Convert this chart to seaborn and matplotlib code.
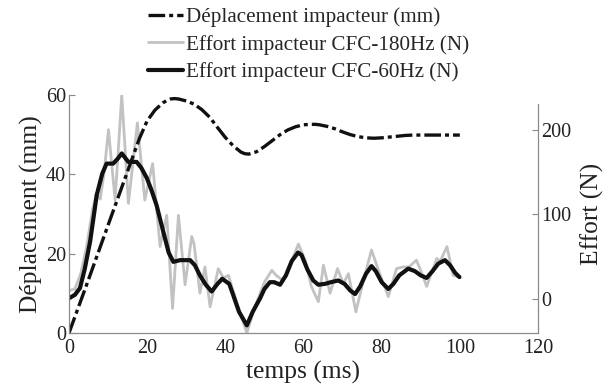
import matplotlib
matplotlib.use("Agg")
import matplotlib.pyplot as plt
import seaborn as sns
import pandas as pd

# ---- data ----
disp_t = [0, 5, 10, 15, 18, 20, 22, 24, 25, 26, 27, 28, 30, 32, 34, 36, 38, 40, 42, 44,
          45, 46, 48, 50, 52, 54, 56, 58, 60, 62, 63, 64, 66, 68, 70, 72, 74, 76, 78, 80,
          82, 84, 86, 88, 90, 92, 94, 96, 98, 100]
disp_mm = [0, 13.5, 27.2, 40.8, 49.0, 53.5, 56.2, 58.0, 58.6, 59.0, 59.1, 59.0, 58.5, 57.7,
           56.3, 54.4, 51.8, 49.3, 47.2, 45.6, 45.2, 45.1, 45.7, 47.0, 48.5, 50.0, 51.2,
           52.0, 52.5, 52.6, 52.6, 52.5, 52.1, 51.5, 50.7, 50.0, 49.5, 49.2, 49.1, 49.2,
           49.4, 49.6, 49.8, 49.9, 49.9, 49.9, 49.9, 49.9, 49.9, 49.9]

f180_t = [0, 1.5, 3, 4.5, 6, 7, 8, 9, 10.1, 11.8, 13.5, 15.2, 17.5, 19.4, 21.4, 23.3, 25,
          26.5, 28, 29.7, 31.4, 32, 33.5, 34.8, 36.1, 38.2, 39.5, 40.8, 43, 45.5, 47.5,
          50, 51.9, 53, 54.8, 56.5, 58.7, 60.5, 62, 63.8, 65.1, 66.8, 68.7, 70.2, 71.5,
          73.4, 75.5, 77.4, 79.5, 81.7, 83.8, 85.5, 87, 88.9, 90.5, 91.5, 94.1, 95, 96.7,
          98.3, 100]
f180_N = [10, 12, 30, 62, 105, 125, 118, 150, 200, 117, 241, 113, 208, 117, 160, 62, 99,
          -11, 99, 17, 74, 65, 7, 38, -9, 36, 25, 28, -5, -40, -10,
          20, 34, 28, 22, 40, 65, 45, 15, -3, 40, 7, 36, 18, 30,
          -15, 25, 58, 30, 3, 36, 38, 38, 46, 28, 15, 48, 45, 62,
          28, 26]

f60_t = [0, 1.5, 2.8, 4, 5.4, 7.1, 8.5, 9.6, 11.3, 12.5, 13.5, 14.5, 15.2, 17.3, 18.5,
         19.9, 21, 22.4, 24.1, 25.5, 26.7, 28.4, 31, 32.2, 33.5, 35, 36.5, 38, 39.2, 41,
         42, 43.5, 45.5, 47, 48.9, 50, 51.4, 52.5, 54, 55.5, 57, 58.6, 59.5, 61, 62.5,
         63.8, 65.5, 67, 68.9, 70.5, 72, 73.2, 74.5, 76, 77.4, 78.5, 80, 81.7, 83, 84.5,
         86.8, 88.5, 90, 91.5, 93, 94.5, 96.2, 97.5, 98.8, 99.9]
f60_N = [1, 5, 13, 35, 68, 123, 148, 160, 160, 166, 172, 166, 162, 162, 155,
         143, 130, 111, 80, 55, 44, 46, 46, 40, 28, 17, 9, 18, 24, 18,
         5, -15, -31, -15, 1, 12, 20, 20, 17, 28, 45, 55, 52, 35, 22,
         17, 18, 20, 22, 18, 10, 6, 15, 30, 39, 33, 20, 12, 18, 28,
         36, 33, 28, 25, 33, 42, 46, 40, 31, 26]

x_ticks = [0, 20, 40, 60, 80, 100, 120]
left_ticks = [0, 20, 40, 60]
right_ticks = [0, 100, 200]

labels = ["Déplacement impacteur (mm)",
          "Effort impacteur CFC-180Hz (N)",
          "Effort impacteur CFC-60Hz (N)"]

# ---- figure ----
sns.set_theme(style="white")
plt.rcParams["font.family"] = ["Liberation Serif", "DejaVu Serif"]

fig = plt.figure(figsize=(6.14, 3.92), dpi=100)
ax = fig.add_axes([69 / 614, 1 - 333 / 392, (538 - 69) / 614, (333 - 95) / 392])
ax2 = ax.twinx()

df_d = pd.DataFrame({"t": disp_t, "v": disp_mm})
df_180 = pd.DataFrame({"t": f180_t, "v": f180_N})
df_60 = pd.DataFrame({"t": f60_t, "v": f60_N})

sns.lineplot(data=df_180, x="t", y="v", ax=ax2, color="#c2c2c2", lw=2.0,
             label=labels[1], legend=False, zorder=2)
sns.lineplot(data=df_60, x="t", y="v", ax=ax2, color="#111111", lw=3.0,
             label=labels[2], legend=False, zorder=3)
sns.lineplot(data=df_d, x="t", y="v", ax=ax, color="#111111", lw=2.4,
             linestyle=(0, (5, 1.2, 1.2, 1.2)), label=labels[0], legend=False)

ax.set_zorder(ax2.get_zorder() + 1)
ax.patch.set_visible(False)

ax.set_xlim(0, 120)
ax.set_ylim(0, 60)
ax2.set_ylim(-40, 241)
ax.set_xticks(x_ticks)
ax.set_yticks(left_ticks)
ax2.set_yticks(right_ticks)

spine_col = "#8a8a8a"
for a in (ax, ax2):
    a.spines["top"].set_visible(False)
    for s in ("left", "right", "bottom"):
        a.spines[s].set_color(spine_col)
        a.spines[s].set_linewidth(0.9)
    a.tick_params(direction="in", length=4, width=0.8, color=spine_col,
                  labelsize=14.5, labelcolor="#222222", pad=2)
ax.tick_params(axis="x", pad=4.5)
ax.spines["right"].set_visible(False)
ax2.spines["left"].set_visible(False)
ax2.spines["bottom"].set_visible(False)
ax2.spines["right"].set_bounds(-40, 230)

ax.set_xlabel("temps (ms)", fontsize=18.4, color="#222222", labelpad=2)
ax.set_ylabel("Déplacement (mm)", fontsize=18.4, color="#222222", labelpad=2)
ax2.set_ylabel("Effort (N)", fontsize=18.4, color="#222222", labelpad=7)

h1 = ax.get_lines()[0]
h2, h3 = ax2.get_lines()[0], ax2.get_lines()[1]
fig.legend([h1, h2, h3], labels, loc="upper left",
           bbox_to_anchor=(141 / 614, 1.0), frameon=False, fontsize=15.2,
           handlelength=1.65, handletextpad=0.12, labelspacing=0.36,
           borderaxespad=0.05, borderpad=0.3)

fig.savefig("out.png", dpi=100)
